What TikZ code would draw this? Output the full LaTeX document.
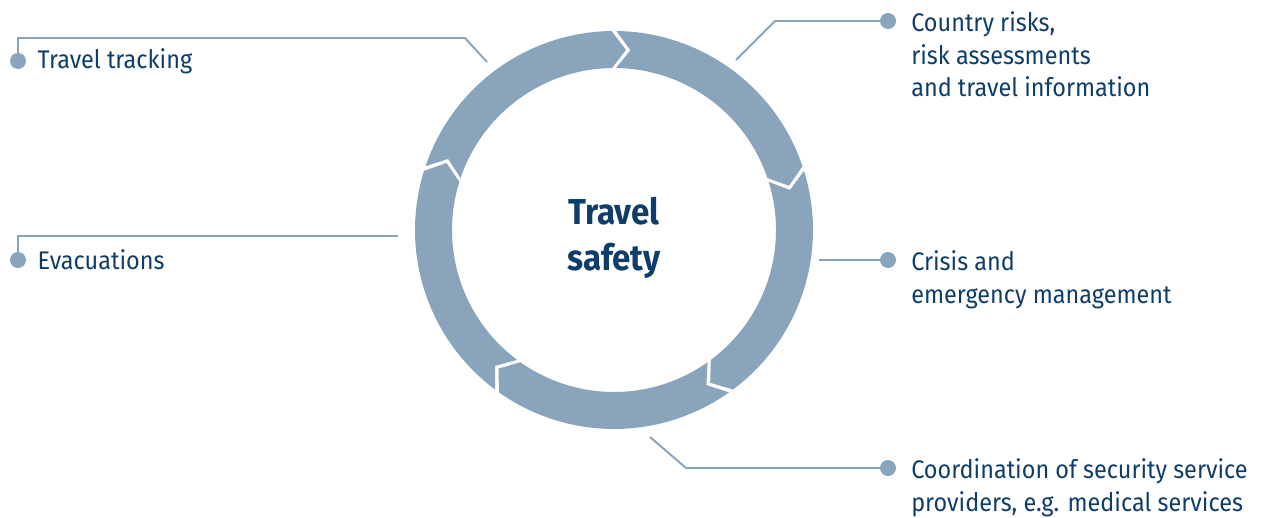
\documentclass[tikz,border=0pt]{standalone}
\usepackage{fontspec}
\setmainfont{Fira Sans}[FakeStretch=0.92]
\usetikzlibrary{positioning,calc}
\definecolor{ringblue}{HTML}{8AA5BB}
\definecolor{navy}{HTML}{0E3D6A}
\tikzset{
  lead/.style={draw=ringblue, line width=1.1pt},
  dot/.style={circle, fill=ringblue, inner sep=0pt, minimum size=0.32cm},
  lbl/.style={text=navy, font=\fontsize{14.5}{18.5}\selectfont, align=left, inner sep=0pt},
  hubtext/.style={text=navy, font=\fontsize{20.5}{26}\selectfont\bfseries, align=center, inner sep=0pt},
}
\begin{document}
\begin{tikzpicture}[x=0.02cm,y=0.02cm]
\useasboundingbox (0,0) rectangle (1266,-517);
% ring of five arrows
\begin{scope}[shift={(614,-230)}]
\foreach \a in {90,18,-54,-126,-198}{
  \pgfmathsetmacro\s{\a-0.7}
  \pgfmathsetmacro\e{\a-72+0.7}
  \fill[ringblue] (\s:199) arc[start angle=\s, end angle=\e, radius=199]
    -- (\e-4.5:180.5) -- (\e:162) arc[start angle=\e, end angle=\s, radius=162]
    -- (\s-4.5:180.5) -- cycle;
}
\end{scope}
\node[hubtext] (hub) at (614,-238) {Travel\\safety};
% dots and labels
\node[dot] (tt-dot) at (18,-61) {};
\node[lbl, right=0.22cm of tt-dot] (tt-txt) {Travel tracking};
\node[dot] (ev-dot) at (18,-260) {};
\node[lbl, right=0.22cm of ev-dot] (ev-txt) {Evacuations};
\node[dot] (cr-dot) at (888,-21) {};
\node[lbl, right=0.34cm of cr-dot.north east, anchor=north west, yshift=0.07cm] (cr-txt) {Country risks,\\risk assessments\\and travel information};
\node[dot] (ce-dot) at (888,-260) {};
\node[lbl, right=0.34cm of ce-dot.north east, anchor=north west, yshift=0.07cm] (ce-txt) {Crisis and\\emergency management};
\node[dot] (co-dot) at (888,-468) {};
\node[lbl, right=0.34cm of co-dot.north east, anchor=north west, yshift=0.07cm] (co-txt) {Coordination of security service\\providers, e.g. medical services};
% leader lines
\coordinate (tt-bend) at (465,-38);
\coordinate (tt-end) at (487,-62);
\draw[lead] (tt-dot.center) |- (tt-bend) -- (tt-end);
\coordinate (ev-end) at (398,-236);
\draw[lead] (ev-dot.center) |- (ev-end);
\coordinate (cr-end) at (736,-60);
\coordinate (cr-bend) at (775,-21);
\draw[lead] (cr-end) -- (cr-bend) -- (cr-dot.center);
\coordinate (ce-end) at (819,-260);
\draw[lead] (ce-end) -- (ce-dot.center);
\coordinate (co-end) at (650,-437);
\coordinate (co-bend) at (686,-468);
\draw[lead] (co-end) -- (co-bend) -- (co-dot.center);
\end{tikzpicture}
\end{document}
